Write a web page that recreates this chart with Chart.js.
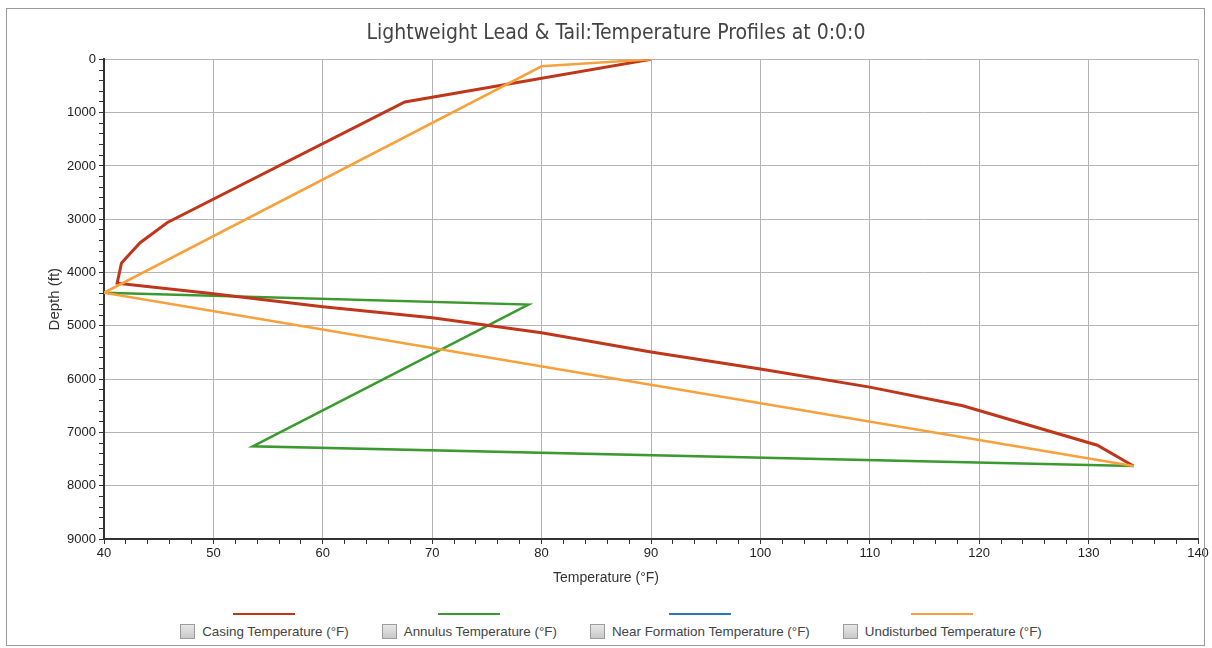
<!DOCTYPE html>
<html>
<head>
<meta charset="utf-8">
<title>Temperature Profiles</title>
<script src="https://cdn.jsdelivr.net/npm/chart.js@4.4.1/dist/chart.umd.min.js"></script>
<style>
  body { margin: 0; background: #fff; font-family: "Liberation Sans", Arial, sans-serif; }
  #wrap { position: relative; width: 1212px; height: 648px; overflow: hidden; }
  #chartBox { position: absolute; left: 0; top: 0; width: 1212px; height: 600px; }
  #frame { position: absolute; left: 6px; top: 8px; width: 1197px; height: 636px; border: 1px solid #9a9a9a; pointer-events: none; }
  #legend { position: absolute; left: 10px; top: 613px; width: 1202px; display: flex; justify-content: center; gap: 33px; }
  .item { display: flex; flex-direction: column; align-items: center; }
  .swatch { width: 62px; height: 2px; margin-bottom: 8px; }
  .row { display: flex; align-items: center; height: 16px; font-size: 13.4px; color: #444; }
  .box { width: 13px; height: 13px; border: 1px solid #9c9c9c; background: linear-gradient(#e6e6e6, #c9c9c9); margin-right: 7px; }
</style>
</head>
<body>
<div id="wrap">
  <div id="chartBox"><canvas id="tempChart"></canvas></div>
  <div id="legend"></div>
  <div id="frame"></div>
</div>
<script>
// values (temperature in °F, depth in ft)
const casingTemp = [90, 67.5, 45.8, 43.3, 41.6, 41.2, 50, 60, 70, 80, 90, 100, 110, 118.5, 130.8, 134.1];
const casingDepth = [0, 800, 3060, 3440, 3820, 4200, 4400, 4640, 4850, 5130, 5490, 5810, 6150, 6500, 7240, 7630];

const annulusTemp = [40, 78.8, 53.6, 134.1];
const annulusDepth = [4380, 4600, 7260, 7630];

// nothing visible for this one in the picture
const nearFormationTemp = [];
const nearFormationDepth = [];

const undisturbedTemp = [90, 80, 40, 134.1];
const undisturbedDepth = [0, 130, 4380, 7630];

const seriesNames = ['Casing Temperature (°F)', 'Annulus Temperature (°F)', 'Near Formation Temperature (°F)', 'Undisturbed Temperature (°F)'];
const seriesColors = ['#c0361a', '#3b9a2f', '#2f77b8', '#f7a13c'];

const chartTitle = 'Lightweight Lead & Tail:Temperature Profiles at 0:0:0';
const xTitle = 'Temperature (°F)';
const yTitle = 'Depth (ft)';

function toPoints(xs, ys) {
  return xs.map((x, i) => ({ x: x, y: ys[i] }));
}

// x axis title sits centred on the whole picture, not on the plot area
const xTitlePlugin = {
  id: 'xTitle',
  afterDraw(chart) {
    const ctx = chart.ctx;
    ctx.save();
    ctx.font = '14px "Liberation Sans", Arial, sans-serif';
    ctx.fillStyle = '#333';
    ctx.textAlign = 'center';
    ctx.textBaseline = 'middle';
    ctx.fillText(xTitle, chart.width / 2, 578);
    ctx.restore();
  }
};

const fontFamily = '"Liberation Sans", Arial, sans-serif';

const ctx = document.getElementById('tempChart').getContext('2d');
const chart = new Chart(ctx, {
  type: 'scatter',
  data: {
    datasets: [
      { label: seriesNames[0], data: toPoints(casingTemp, casingDepth), borderColor: seriesColors[0], borderWidth: 3, order: 1 },
      { label: seriesNames[1], data: toPoints(annulusTemp, annulusDepth), borderColor: seriesColors[1], borderWidth: 2.5, order: 2 },
      { label: seriesNames[2], data: toPoints(nearFormationTemp, nearFormationDepth), borderColor: seriesColors[2], borderWidth: 2.5, order: 3 },
      { label: seriesNames[3], data: toPoints(undisturbedTemp, undisturbedDepth), borderColor: seriesColors[3], borderWidth: 2.5, order: 0 }
    ].map(ds => Object.assign(ds, { showLine: true, pointRadius: 0, pointHoverRadius: 0, tension: 0, fill: false }))
  },
  options: {
    responsive: true,
    maintainAspectRatio: false,
    animation: false,
    layout: { padding: { left: 34, right: 14, top: 0, bottom: 0 } },
    plugins: {
      legend: { display: false },
      tooltip: { enabled: false },
      title: {
        display: true,
        text: chartTitle,
        color: '#444',
        font: { family: '"Liberation Sans Narrow", "DejaVu Sans Condensed", Roboto, sans-serif', size: 21, weight: 'normal', lineHeight: 1.35 },
        padding: { top: 19, bottom: 12 }
      }
    },
    scales: {
      x: {
        type: 'linear',
        position: 'bottom',
        min: 40,
        max: 140,
        afterFit: function (scale) { scale.height = 61; },
        ticks: {
          stepSize: 2,
          autoSkip: false,
          maxRotation: 0,
          padding: 2,
          color: '#222',
          font: { family: fontFamily, size: 13 },
          callback: function (value) { return value % 10 === 0 ? value : ''; }
        },
        grid: {
          color: function (c) { return c.tick && c.tick.value % 10 === 0 ? '#b4b4b4' : 'rgba(0,0,0,0)'; },
          tickColor: '#333',
          tickLength: 5
        },
        border: { display: true, color: '#333', width: 2 }
      },
      y: {
        type: 'linear',
        reverse: true,
        min: 0,
        max: 9000,
        afterFit: function (scale) { scale.width = 70; },
        title: {
          display: true,
          text: yTitle,
          color: '#333',
          font: { family: fontFamily, size: 15 },
          padding: { top: 12, bottom: 0 }
        },
        ticks: {
          stepSize: 200,
          autoSkip: false,
          padding: 3,
          color: '#222',
          font: { family: fontFamily, size: 13 },
          callback: function (value) { return value % 1000 === 0 ? value : ''; }
        },
        grid: {
          color: function (c) { return c.tick && c.tick.value % 1000 === 0 ? '#b4b4b4' : 'rgba(0,0,0,0)'; },
          tickColor: '#333',
          tickLength: 5
        },
        border: { display: true, color: '#333', width: 2 }
      }
    }
  },
  plugins: [xTitlePlugin]
});

// legend in the reference style: coloured line above a greyed checkbox and the name
const legendEl = document.getElementById('legend');
chart.data.datasets.forEach(function (ds) {
  const item = document.createElement('div');
  item.className = 'item';
  const swatch = document.createElement('div');
  swatch.className = 'swatch';
  swatch.style.background = ds.borderColor;
  const row = document.createElement('div');
  row.className = 'row';
  const box = document.createElement('span');
  box.className = 'box';
  const text = document.createElement('span');
  text.textContent = ds.label;
  row.appendChild(box);
  row.appendChild(text);
  item.appendChild(swatch);
  item.appendChild(row);
  legendEl.appendChild(item);
});
</script>
</body>
</html>
